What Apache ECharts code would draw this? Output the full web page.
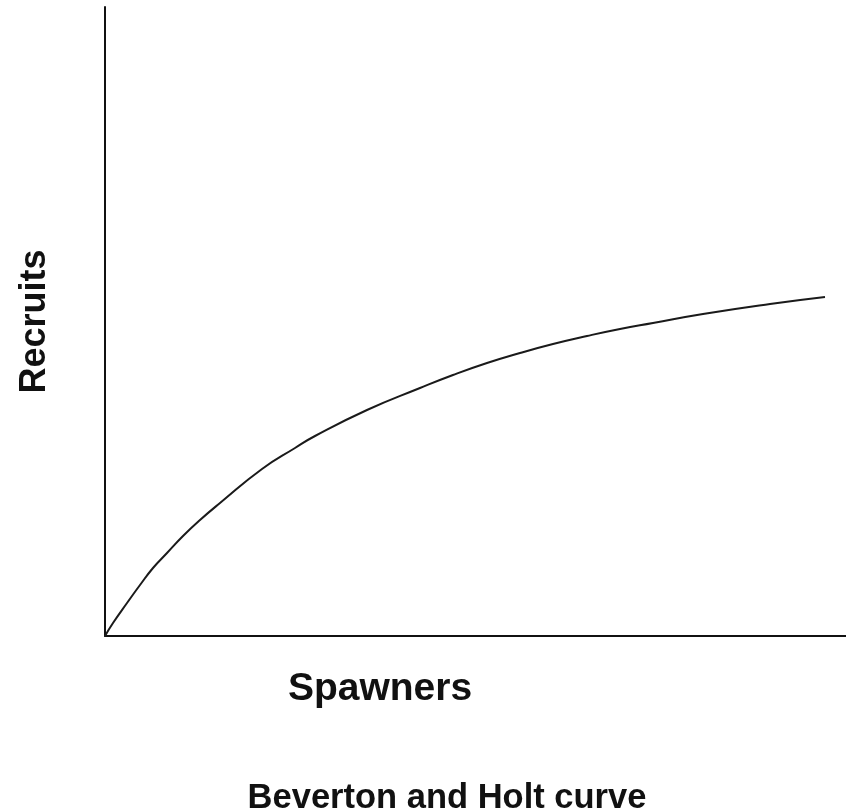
<!DOCTYPE html>
<html>
<head>
<meta charset="utf-8">
<script src="https://cdn.jsdelivr.net/npm/echarts@6/dist/echarts.min.js"></script>
<style>
  html, body { margin: 0; padding: 0; background: #fff; }
  #chart { width: 846px; height: 812px; }
</style>
</head>
<body>
<div id="chart"></div>
<script>
// spawners (x) and recruits (y), arbitrary units
var spawners = [0, 8, 22, 35, 48, 62, 78, 95, 115, 157, 190, 210, 262, 315, 348, 382, 415, 448, 482, 515, 548, 598, 665, 720];
var recruits = [0, 13, 33, 51, 68, 83, 100, 116, 133, 167, 188, 200, 226, 248, 261, 273, 283, 292, 300, 307, 313, 322, 332, 339];

var xMax = 741;
var yMax = 629;

var points = spawners.map(function (s, i) {
  return [s, recruits[i]];
});

var font = "'Liberation Sans', Arial, sans-serif";

var chart = echarts.init(document.getElementById("chart"));

var option = {
  animation: false,
  backgroundColor: "#fff",
  title: [
    {
      text: "Spawners",
      left: 375,
      top: 665,
      textAlign: "center",
      textStyle: { fontFamily: font, fontWeight: "bold", fontSize: 39, color: "#111" },
    },
    {
      text: "Beverton and Holt curve",
      left: 442,
      top: 776,
      textAlign: "center",
      textStyle: { fontFamily: font, fontWeight: "bold", fontSize: 34.5, color: "#111" },
    },
  ],
  grid: { left: 105, right: 0, top: 7, bottom: 176, containLabel: false },
  xAxis: {
    type: "value",
    min: 0,
    max: xMax,
    axisLine: { show: true, onZero: false, lineStyle: { color: "#111", width: 2 } },
    axisTick: { show: false },
    axisLabel: { show: false },
    splitLine: { show: false },
  },
  yAxis: {
    type: "value",
    min: 0,
    max: yMax,
    name: "Recruits",
    nameLocation: "middle",
    nameRotate: 90,
    nameGap: 52,
    nameTextStyle: { fontFamily: font, fontWeight: "bold", fontSize: 36, color: "#111" },
    axisLine: { show: true, onZero: false, lineStyle: { color: "#111", width: 2 } },
    axisTick: { show: false },
    axisLabel: { show: false },
    splitLine: { show: false },
  },
  series: [
    {
      type: "line",
      data: points,
      smooth: 0.5,
      symbol: "none",
      lineStyle: { color: "#1a1a1a", width: 2 },
    },
  ],
};

chart.setOption(option);
</script>
</body>
</html>
